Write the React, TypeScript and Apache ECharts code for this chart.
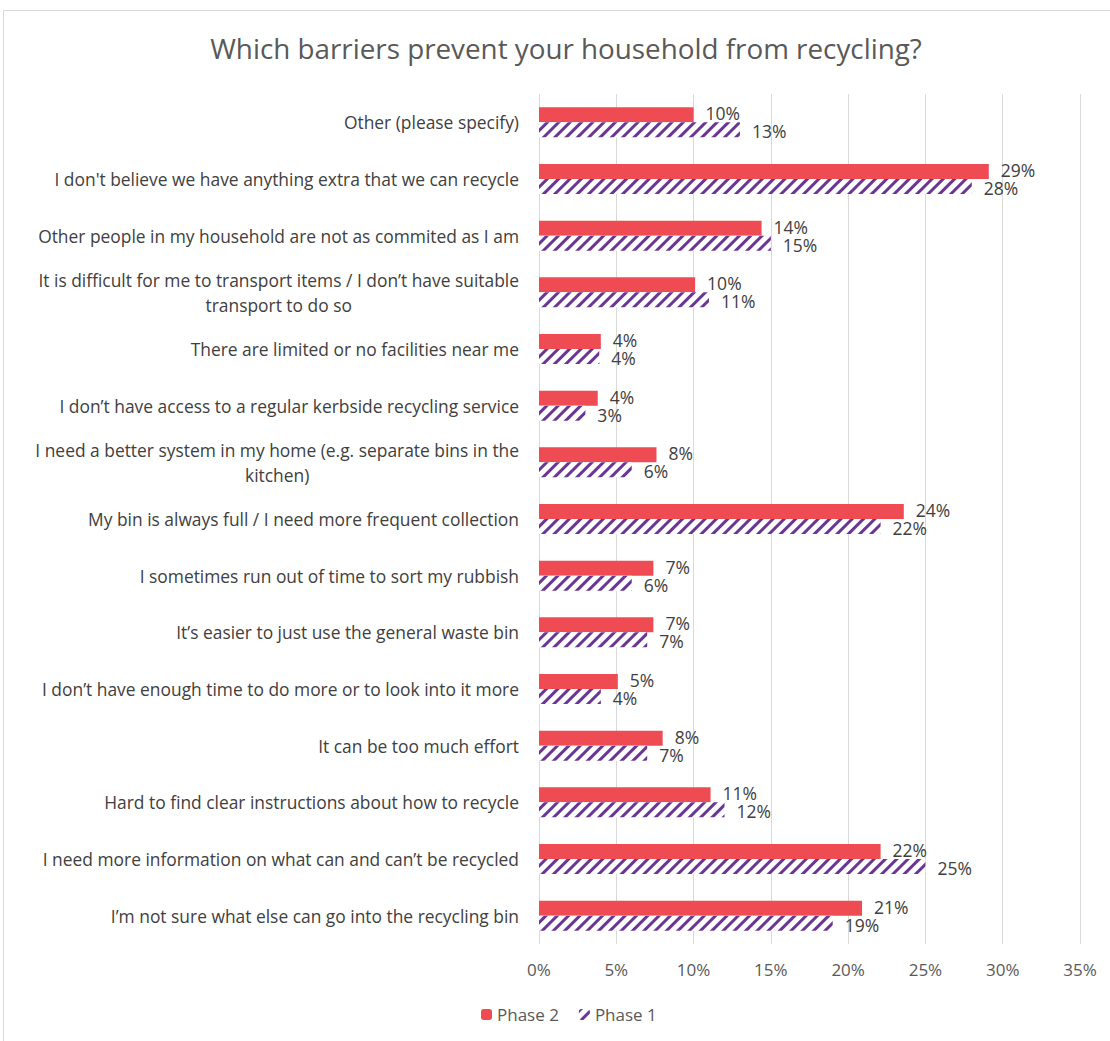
import React, { useEffect, useRef } from "react";
import * as echarts from "echarts";

const TITLE = "Which barriers prevent your household from recycling?";

const categories: string[] = [
  "Other (please specify)",
  "I don't believe we have anything extra that we can recycle",
  "Other people in my household are not as commited as I am",
  "It is difficult for me to transport items / I don’t have suitable\ntransport to do so",
  "There are limited or no facilities near me",
  "I don’t have access to a regular kerbside recycling service",
  "I need a better system in my home (e.g. separate bins in the\nkitchen)",
  "My bin is always full / I need more frequent collection",
  "I sometimes run out of time to sort my rubbish",
  "It’s easier to just use the general waste bin",
  "I don’t have enough time to do more or to look into it more",
  "It can be too much effort",
  "Hard to find clear instructions about how to recycle",
  "I need more information on what can and can’t be recycled",
  "I’m not sure what else can go into the recycling bin",
];

const phase2: number[] = [10.0, 29.1, 14.4, 10.1, 4.0, 3.8, 7.6, 23.6, 7.4, 7.4, 5.1, 8.0, 11.1, 22.1, 20.9];
const phase1: number[] = [13.0, 28.0, 15.0, 11.0, 3.9, 3.0, 6.0, 22.1, 6.0, 7.0, 4.0, 7.0, 12.0, 25.0, 19.0];

const xTicks = { min: 0, max: 35, interval: 5 };

const FONT = "Open Sans";
const RED = "#EF4B53";
const PURPLE = "#6A3594";

export default function App() {
  const ref = useRef<HTMLDivElement>(null);
  useEffect(() => {
    if (!ref.current) return;
    const chart = echarts.init(ref.current, undefined, { renderer: "svg" });
    chart.setOption({
      animation: false,
      backgroundColor: "#ffffff",
      textStyle: { fontFamily: FONT },
      title: {
        text: TITLE,
        left: 561,
        top: 29,
        textAlign: "center",
        textStyle: { fontFamily: FONT, fontSize: 27.8, fontWeight: "normal", color: "#595959" },
      },
      graphic: [
        {
          type: "rect",
          shape: { x: 3.5, y: 10.5, width: 1140, height: 1060 },
          style: { fill: "none", stroke: "#d9d9d9", lineWidth: 1 },
          silent: true,
          z: -1,
        },
      ],
      legend: {
        bottom: 13,
        left: 476,
        itemWidth: 11,
        itemHeight: 11,
        itemGap: 20,
        textStyle: { fontFamily: FONT, fontSize: 17, color: "#595959" },
        data: ["Phase 2", "Phase 1"],
      },
      grid: { left: 539, right: 30, top: 94, bottom: 97, containLabel: false },
      xAxis: {
        type: "value",
        min: xTicks.min,
        max: xTicks.max,
        interval: xTicks.interval,
        axisLine: { show: false },
        axisTick: { show: false },
        splitLine: { show: true, lineStyle: { color: "#d9d9d9", width: 1 } },
        axisLabel: {
          formatter: (v: number) => `${v}%`,
          fontFamily: FONT,
          fontSize: 17,
          color: "#595959",
          margin: 17,
        },
      },
      yAxis: {
        type: "category",
        inverse: true,
        data: categories,
        axisLine: { show: false },
        axisTick: { show: false },
        axisLabel: {
          fontFamily: FONT,
          fontSize: 17.4,
          color: "#404040",
          margin: 20,
          lineHeight: 25,
          formatter: (v: string) =>
            v.includes("\n") ? v.split("\n").map((l) => `{c|${l}}`).join("\n") : v,
          rich: {
            c: { align: "center", fontFamily: FONT, fontSize: 17.4, color: "#404040", lineHeight: 25 },
          },
        },
      },
      series: [
        {
          name: "Phase 2",
          type: "bar",
          data: phase2,
          barWidth: 15,
          barGap: "0%",
          itemStyle: { color: RED },
          label: {
            show: true,
            position: "right",
            distance: 12,
            offset: [0, -1.5],
            formatter: (p: any) => `${Math.round(p.value)}%`,
            fontFamily: FONT,
            fontSize: 17.5,
            color: "#404040",
          },
        },
        {
          name: "Phase 1",
          type: "bar",
          data: phase1,
          barWidth: 15,
          barGap: "0%",
          itemStyle: {
            color: "#ffffff",
            decal: {
              symbol: "rect",
              symbolSize: 1,
              color: PURPLE,
              dashArrayX: [1, 0],
              dashArrayY: [3, 5],
              rotation: -Math.PI / 4,
            },
          },
          label: {
            show: true,
            position: "right",
            distance: 12,
            offset: [0, 1.5],
            formatter: (p: any) => `${Math.round(p.value)}%`,
            fontFamily: FONT,
            fontSize: 17.5,
            color: "#404040",
          },
        },
      ],
    });
    return () => chart.dispose();
  }, []);
  return (
    <div
      ref={ref}
      style={{ position: "fixed", left: 0, top: 0, width: 1110, height: 1041 }}
    />
  );
}
